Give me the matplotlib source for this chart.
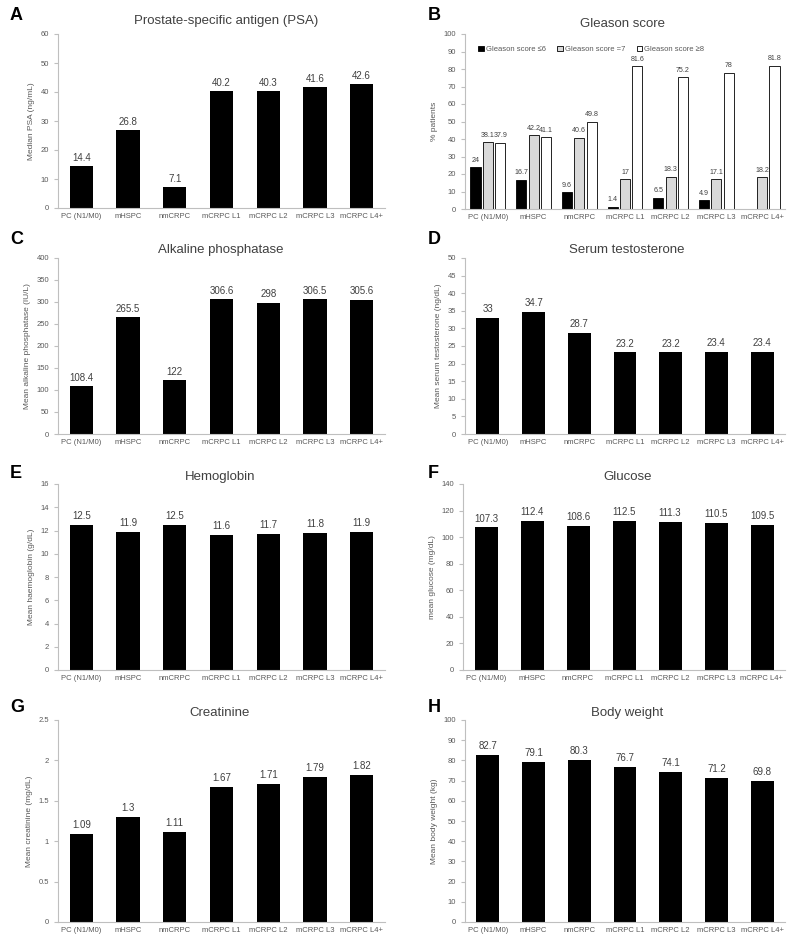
import numpy as np
import matplotlib.pyplot as plt
from matplotlib.ticker import FuncFormatter

groups = ["PC (N1/M0)", "mHSPC", "nmCRPC", "mCRPC L1", "mCRPC L2", "mCRPC L3", "mCRPC L4+"]

psa = [14.4, 26.8, 7.1, 40.2, 40.3, 41.6, 42.6]
alp = [108.4, 265.5, 122, 306.6, 298, 306.5, 305.6]
testo = [33, 34.7, 28.7, 23.2, 23.2, 23.4, 23.4]
hgb = [12.5, 11.9, 12.5, 11.6, 11.7, 11.8, 11.9]
glucose = [107.3, 112.4, 108.6, 112.5, 111.3, 110.5, 109.5]
creat = [1.09, 1.3, 1.11, 1.67, 1.71, 1.79, 1.82]
weight = [82.7, 79.1, 80.3, 76.7, 74.1, 71.2, 69.8]

gl6 = [24, 16.7, 9.6, 1.4, 6.5, 4.9, np.nan]
gl7 = [38.1, 42.2, 40.6, 17, 18.3, 17.1, 18.2]
gl8 = [37.9, 41.1, 49.8, 81.6, 75.2, 78, 81.8]

TXT = "#404040"
TICK = "#595959"
SPINE = "#bfbfbf"

W, H = 795, 940
fig = plt.figure(figsize=(W / 100, H / 100), dpi=100)
plt.rcParams['font.family'] = ['Liberation Sans', 'DejaVu Sans']

def px_rect(left, top, right, bottom):
    return [left / W, 1 - bottom / H, (right - left) / W, (bottom - top) / H]

def title_at(title, px, py):
    fig.text(px / W, 1 - py / H, title, fontsize=9.5, color=TXT, ha="center", va="center")

def style(ax, ymax, step, ylabel):
    ax.set_ylim(0, ymax)
    ax.set_yticks(np.arange(0, ymax + step / 2, step))
    ax.yaxis.set_major_formatter(FuncFormatter(lambda v, p: "%g" % round(v, 2)))
    ax.set_xlim(-0.5, len(groups) - 0.5)
    ax.set_xticks(range(len(groups)))
    ax.set_xticklabels(groups)
    for s in ["top", "right"]:
        ax.spines[s].set_visible(False)
    for s in ["left", "bottom"]:
        ax.spines[s].set_color(SPINE)
        ax.spines[s].set_linewidth(0.8)
    ax.tick_params(axis="y", labelsize=5.5, colors=SPINE, labelcolor=TICK, length=3, width=0.8)
    ax.tick_params(axis="x", labelsize=5.5, labelcolor=TICK, length=0)
    ax.set_ylabel(ylabel, fontsize=6, color=TICK, labelpad=4)

def simple(rect, vals, ymax, step, ylabel):
    ax = fig.add_axes(rect)
    x = np.arange(len(groups))
    ax.bar(x, vals, width=0.5, color="black")
    for xi, v in zip(x, vals):
        ax.text(xi, v + ymax * 0.02, "%g" % v, ha="center", va="bottom", fontsize=7, color=TXT)
    style(ax, ymax, step, ylabel)
    return ax

simple(px_rect(58, 34, 385, 208), psa, 60, 10, "Median PSA (ng/mL)")
title_at("Prostate-specific antigen (PSA)", 226, 21)
simple(px_rect(58, 258, 385, 434), alp, 400, 50, "Mean alkaline phosphatase (IU/L)")
title_at("Alkaline phosphatase", 221, 250)
simple(px_rect(465, 258, 785, 434), testo, 50, 5, "Mean serum testosterone (ng/dL)")
title_at("Serum testosterone", 627, 250)
simple(px_rect(58, 484, 385, 670), hgb, 16, 2, "Mean haemoglobin (g/dL)")
title_at("Hemoglobin", 220, 477)
simple(px_rect(463, 484, 785, 670), glucose, 140, 20, "mean glucose (mg/dL)")
title_at("Glucose", 628, 477)
simple(px_rect(58, 720, 385, 922), creat, 2.5, 0.5, "Mean creatinine (mg/dL)")
title_at("Creatinine", 220, 713)
simple(px_rect(465, 720, 785, 922), weight, 100, 10, "Mean body weight (kg)")
title_at("Body weight", 627, 713)

# Gleason grouped bars
axb = fig.add_axes(px_rect(465, 34, 785, 209))
x = np.arange(len(groups))
series = [(gl6, "black", "Gleason score ≤6"),
          (gl7, "#d9d9d9", "Gleason score =7"),
          (gl8, "white", "Gleason score ≥8")]
for i, (vals, col, lab) in enumerate(series):
    pos = x + (i - 1) * 0.27
    axb.bar(pos, vals, width=0.22, color=col, edgecolor="black", linewidth=0.6, label=lab)
    for p, v in zip(pos, vals):
        if not np.isnan(v):
            axb.text(p, v + 2, "%g" % v, ha="center", va="bottom", fontsize=5.1, color=TXT)
style(axb, 100, 10, "% patients")
title_at("Gleason score", 622, 24)
axb.legend(loc="upper left", bbox_to_anchor=(0.02, 0.97), ncol=3, frameon=False,
           fontsize=5.5, handlelength=0.7, handleheight=0.7, handletextpad=0.3,
           columnspacing=1.5, labelcolor=TICK)

for letter, (lx, ly) in {"A": (10, 15), "B": (428, 15), "C": (10, 240), "D": (428, 240),
                         "E": (10, 473), "F": (428, 473), "G": (10, 708), "H": (428, 708)}.items():
    fig.text(lx / W, 1 - ly / H, letter, fontsize=13, fontweight="bold",
             ha="left", va="center", color="black")

fig.savefig("out.png", dpi=100)
